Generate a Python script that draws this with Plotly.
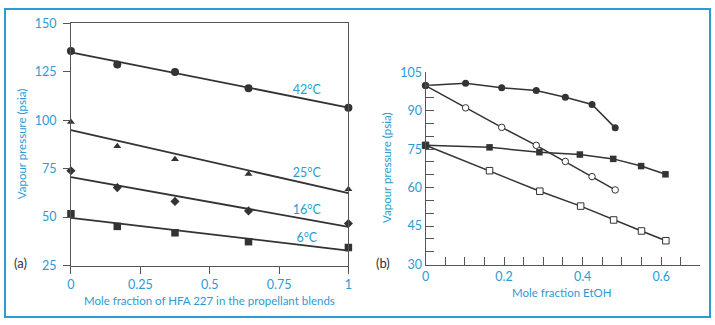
import plotly.graph_objects as go

# ---------------- Data ----------------
# Panel (a): vapour pressure vs mole fraction of HFA 227
xa = [0, 0.167, 0.375, 0.64, 1]
p42 = [135.7, 128.7, 124.9, 116.5, 106.4]
p25 = [99.1, 86.5, 79.8, 72.2, 64.4]
p16 = [73.9, 65.2, 58.1, 53.2, 46.7]
p6 = [51.7, 45.2, 41.9, 37.3, 34.3]
fit_x = [0, 1]
fit42 = [135.0, 106.5]
fit25 = [94.9, 62.3]
fit16 = [70.6, 45.0]
fit6 = [49.6, 32.7]
temp_labels = ["42°C", "25°C", "16°C", "6°C"]
label_x = [0.85, 0.85, 0.85, 0.85]
label_y = [115.1, 72.2, 53.4, 38.9]

# Panel (b): vapour pressure vs mole fraction EtOH
xb_circ = [0, 0.102, 0.194, 0.282, 0.356, 0.424, 0.483]
yb_fcirc = [99.8, 100.7, 98.9, 97.9, 95.2, 92.4, 83.3]
yb_ocirc = [99.8, 91.1, 83.5, 76.5, 70.2, 64.3, 59.1]
xb_fsq = [0, 0.163, 0.290, 0.393, 0.478, 0.549, 0.611]
yb_fsq = [76.5, 75.7, 73.8, 72.9, 71.2, 68.4, 65.2]
xb_osq = [0, 0.163, 0.291, 0.395, 0.479, 0.550, 0.612]
yb_osq = [76.5, 66.6, 58.6, 52.8, 47.4, 43.1, 39.3]

# ---------------- Styles ----------------
BLUE = "#2b9bd6"
DARK = "#333333"
AX = "#555555"
FONT = "Lato"
W, H = 715, 325

fig = go.Figure()

# Panel (a) fits
for fy in [fit42, fit25, fit16, fit6]:
    fig.add_trace(go.Scatter(x=fit_x, y=fy, mode="lines", line=dict(color=DARK, width=1.8),
                             xaxis="x", yaxis="y", showlegend=False, hoverinfo="skip"))
# Panel (a) points
for pv, sym, sz in [(p42, "circle", 8), (p25, "triangle-up", 7), (p16, "diamond", 7), (p6, "square", 7.5)]:
    fig.add_trace(go.Scatter(x=xa, y=pv, mode="markers", marker=dict(symbol=sym, size=sz, color=DARK),
                             xaxis="x", yaxis="y", showlegend=False, cliponaxis=False))
fig.add_trace(go.Scatter(x=label_x, y=label_y, mode="text", text=temp_labels,
                         textfont=dict(color=BLUE, size=12.5, family=FONT), xaxis="x", yaxis="y",
                         showlegend=False, cliponaxis=False))

# Panel (b)
ln = dict(color=DARK, width=1.5)
fig.add_trace(go.Scatter(x=xb_osq, y=yb_osq, mode="lines+markers", line=ln,
                         marker=dict(symbol="square", size=6.5, color="white", line=dict(color=DARK, width=1)),
                         xaxis="x2", yaxis="y2", showlegend=False, cliponaxis=False))
fig.add_trace(go.Scatter(x=xb_circ, y=yb_ocirc, mode="lines+markers", line=ln,
                         marker=dict(symbol="circle", size=6.5, color="white", line=dict(color=DARK, width=1)),
                         xaxis="x2", yaxis="y2", showlegend=False, cliponaxis=False))
fig.add_trace(go.Scatter(x=xb_fsq, y=yb_fsq, mode="lines+markers", line=ln,
                         marker=dict(symbol="square", size=6.5, color=DARK),
                         xaxis="x2", yaxis="y2", showlegend=False, cliponaxis=False))
fig.add_trace(go.Scatter(x=xb_circ, y=yb_fcirc, mode="lines+markers", line=ln,
                         marker=dict(symbol="circle", size=7, color=DARK),
                         xaxis="x2", yaxis="y2", showlegend=False, cliponaxis=False))

tickfont = dict(color=BLUE, size=12.5, family=FONT)
titlefont = dict(color=BLUE, size=11.5, family=FONT)


def px(v):
    return v / W


def py(v):
    return 1 - v / H


def ann(text, x, y, font, angle=0):
    return dict(text=text, xref="paper", yref="paper", x=px(x), y=py(y), textangle=angle,
                xanchor="center", yanchor="middle", showarrow=False, font=font)


fig.update_layout(
    width=W, height=H, margin=dict(l=0, r=0, t=0, b=0),
    paper_bgcolor="white", plot_bgcolor="white",
    font=dict(family=FONT, color=BLUE),
    xaxis=dict(domain=[px(67.7), px(348.3)], range=[0, 1], tickvals=[0, 0.25, 0.5, 0.75, 1],
               ticktext=["0", "0.25", "0.5", "0.75", "1"], ticks="outside", ticklen=7,
               tickcolor=AX, showline=True, linecolor=AX, linewidth=1, mirror=True,
               showgrid=False, zeroline=False, tickfont=tickfont, anchor="y"),
    yaxis=dict(domain=[py(270), py(16)], range=[25, 150], tickvals=[25, 50, 75, 100, 125, 150],
               ticks="outside", ticklen=7, tickcolor=AX, showline=True, linecolor=AX, linewidth=1,
               mirror=True, showgrid=False, zeroline=False, tickfont=tickfont, anchor="x",
               ticklabelstandoff=4),
    xaxis2=dict(domain=[px(426.3), px(704.3)], range=[0, 0.7], tick0=0, dtick=0.2,
                ticks="inside", ticklen=8, tickcolor=AX,
                minor=dict(dtick=0.05, tick0=0, ticks="inside", ticklen=8, tickcolor=AX),
                showline=True, linecolor=AX, linewidth=1, showgrid=False, zeroline=False,
                tickfont=tickfont, anchor="y2"),
    yaxis2=dict(domain=[py(269), py(67.3)], range=[30, 105], tick0=30, dtick=15,
                ticks="inside", ticklen=8, tickcolor=AX,
                minor=dict(dtick=5, tick0=30, ticks="inside", ticklen=8, tickcolor=AX),
                showline=True, linecolor=AX, linewidth=1, showgrid=False, zeroline=False,
                tickfont=tickfont, anchor="x2"),
    shapes=[dict(type="rect", xref="paper", yref="paper", x0=px(1), x1=px(714), y0=py(324), y1=py(1),
                 line=dict(color=BLUE, width=2), fillcolor="rgba(0,0,0,0)")],
    annotations=[
        ann("Vapour pressure (psia)", 18, 143, titlefont, -90),
        ann("Mole fraction of HFA 227 in the propellant blends", 208, 307, titlefont),
        ann("(a)", 17, 267, dict(color=DARK, size=13, family=FONT)),
        ann("Vapour pressure (psia)", 387, 168, titlefont, -90),
        ann("Mole fraction EtOH", 564, 298, titlefont),
        ann("(b)", 383, 267, dict(color=DARK, size=13, family=FONT)),
    ],
)

fig.write_html("out.html")
